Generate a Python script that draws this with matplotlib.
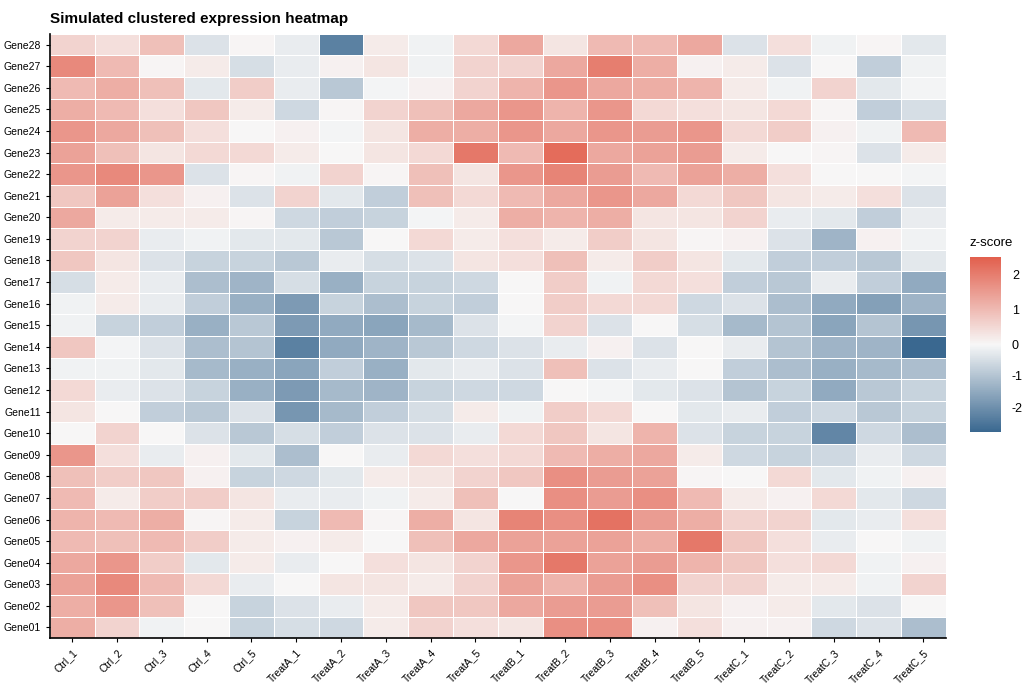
import numpy as np
import matplotlib
matplotlib.use("Agg")
from matplotlib import pyplot as plt
from matplotlib.colors import LinearSegmentedColormap, TwoSlopeNorm

plt.rcParams['font.family'] = ['Liberation Sans', 'DejaVu Sans']
plt.rcParams['axes.unicode_minus'] = False

samples = ["Ctrl_1", "Ctrl_2", "Ctrl_3", "Ctrl_4", "Ctrl_5",
           "TreatA_1", "TreatA_2", "TreatA_3", "TreatA_4", "TreatA_5",
           "TreatB_1", "TreatB_2", "TreatB_3", "TreatB_4", "TreatB_5",
           "TreatC_1", "TreatC_2", "TreatC_3", "TreatC_4", "TreatC_5"]
genes = ["Gene%02d" % i for i in range(1, 29)]

# rows listed Gene01 .. Gene28
z = [
    [1.2, 0.6, -0.1, 0.0, -0.7, -0.5, -0.6, 0.2, 0.6, 0.4, 0.3, 1.7, 1.7, 0.1, 0.4, 0.1, 0.1, -0.6, -0.4, -1.1],
    [1.2, 1.6, 0.9, 0.0, -0.7, -0.4, -0.2, 0.2, 0.8, 0.8, 1.3, 1.5, 1.5, 0.9, 0.3, 0.1, 0.2, -0.3, -0.4, 0.0],
    [1.4, 1.8, 1.0, 0.5, -0.2, 0.0, 0.3, 0.3, 0.2, 0.6, 1.4, 1.1, 1.5, 1.7, 0.6, 0.6, 0.2, 0.2, -0.1, 0.6],
    [1.3, 1.6, 0.7, -0.3, 0.2, -0.2, 0.0, 0.4, 0.3, 0.6, 1.6, 2.1, 1.4, 1.5, 1.1, 0.8, 0.4, 0.5, -0.1, 0.1],
    [1.0, 0.9, 1.0, 0.7, 0.2, 0.1, 0.2, 0.0, 0.9, 1.3, 1.4, 1.4, 1.4, 1.2, 2.1, 0.8, 0.4, -0.2, 0.0, -0.1],
    [1.1, 1.0, 1.2, 0.05, 0.2, -0.7, 1.0, 0.05, 1.2, 0.3, 1.9, 1.7, 2.2, 1.5, 1.2, 0.6, 0.6, -0.3, -0.2, 0.4],
    [1.0, 0.2, 0.7, 0.7, 0.3, -0.2, -0.2, -0.1, 0.2, 0.9, 0.0, 1.7, 1.5, 1.7, 1.0, 0.2, 0.1, 0.5, -0.3, -0.6],
    [0.9, 0.7, 0.8, 0.1, -0.7, -0.6, -0.3, 0.2, 0.3, 0.6, 0.8, 1.7, 1.5, 1.4, 0.05, 0.0, 0.5, -0.3, -0.1, 0.1],
    [1.6, 0.4, -0.2, 0.1, -0.3, -1.1, 0.0, -0.2, 0.5, 0.4, 0.5, 1.0, 1.2, 1.3, 0.2, -0.6, -0.7, -0.6, -0.2, -0.6],
    [0.0, 0.6, 0.0, -0.4, -0.9, -0.5, -0.8, -0.4, -0.4, -0.2, 0.5, 0.8, 0.3, 1.1, -0.4, -0.7, -0.7, -2.2, -0.6, -1.1],
    [0.3, 0.0, -0.8, -0.9, -0.4, -1.9, -1.2, -0.8, -0.5, 0.2, -0.1, 0.7, 0.5, 0.0, -0.3, -0.2, -0.8, -0.6, -0.9, -0.7],
    [0.5, -0.2, -0.4, -0.7, -1.4, -1.8, -1.2, -1.3, -0.7, -0.6, -0.6, 0.0, -0.05, -0.3, -0.4, -1.0, -0.7, -1.5, -0.9, -0.7],
    [-0.1, -0.1, -0.3, -1.2, -1.4, -1.6, -0.8, -1.4, -0.3, -0.2, -0.4, 0.9, -0.4, -0.2, 0.0, -0.8, -1.1, -1.4, -1.2, -1.1],
    [0.8, -0.05, -0.4, -1.1, -1.0, -2.3, -1.5, -1.3, -0.9, -0.6, -0.4, -0.2, 0.1, -0.4, 0.0, -0.2, -1.0, -1.3, -1.3, -2.8],
    [-0.1, -0.7, -0.8, -1.4, -0.9, -1.8, -1.5, -1.6, -1.2, -0.4, -0.05, 0.6, -0.4, 0.0, -0.5, -1.2, -1.0, -1.6, -1.0, -1.9],
    [-0.1, 0.2, -0.2, -0.8, -1.4, -1.8, -0.7, -1.1, -0.7, -0.8, 0.0, 0.7, 0.5, 0.5, -0.6, -0.4, -1.1, -1.5, -1.7, -1.3],
    [-0.5, 0.2, -0.2, -1.1, -1.3, -0.5, -1.4, -0.7, -0.7, -0.6, 0.0, 0.7, -0.1, 0.5, 0.4, -0.8, -0.9, -0.2, -0.8, -1.5],
    [0.8, 0.3, -0.4, -0.7, -0.7, -0.9, -0.2, -0.5, -0.4, 0.3, 0.4, 0.9, 0.2, 0.7, 0.3, -0.3, -0.8, -0.8, -0.9, -0.3],
    [0.6, 0.6, -0.2, -0.1, -0.3, -0.3, -0.9, 0.0, 0.5, 0.2, 0.4, 0.2, 0.7, 0.3, 0.05, 0.1, -0.4, -1.3, 0.1, -0.1],
    [1.3, 0.2, 0.2, 0.2, 0.05, -0.6, -0.8, -0.7, -0.05, 0.2, 1.2, 1.1, 1.2, 0.3, 0.3, 0.6, -0.2, -0.3, -0.8, -0.2],
    [0.8, 1.4, 0.4, 0.1, -0.4, 0.6, -0.3, -0.8, 0.9, 0.5, 1.0, 1.3, 1.6, 1.3, 0.5, 0.8, 0.3, 0.2, 0.4, -0.4],
    [1.6, 1.8, 1.6, -0.4, 0.05, -0.1, 0.6, 0.05, 0.9, 0.3, 1.6, 1.9, 1.5, 1.0, 1.4, 1.2, 0.4, 0.0, 0.0, -0.05],
    [1.4, 0.9, 0.3, 0.5, 0.5, 0.2, 0.0, 0.3, 0.5, 2.1, 1.0, 2.3, 1.3, 1.4, 1.5, 0.2, 0.0, 0.05, -0.4, 0.2],
    [1.6, 1.3, 0.9, 0.4, 0.0, 0.1, -0.05, 0.3, 1.2, 1.2, 1.6, 1.3, 1.6, 1.5, 1.6, 0.5, 0.7, 0.1, -0.1, 1.0],
    [1.2, 1.0, 0.4, 0.8, 0.2, -0.6, 0.05, 0.6, 0.9, 1.3, 1.6, 1.1, 1.6, 0.5, 0.4, 0.3, 0.5, 0.05, -0.8, -0.5],
    [1.0, 1.2, 0.9, -0.3, 0.7, -0.2, -0.9, -0.05, 0.1, 0.6, 1.1, 1.6, 1.3, 1.2, 1.1, 0.2, -0.1, 0.6, -0.3, -0.05],
    [1.8, 1.0, 0.05, 0.2, -0.5, -0.2, 0.1, 0.3, -0.1, 0.6, 0.6, 1.3, 2.0, 1.2, 0.1, 0.2, -0.4, 0.0, -0.8, -0.1],
    [0.6, 0.4, 0.9, -0.4, 0.05, -0.2, -2.3, 0.2, -0.1, 0.5, 1.3, 0.3, 1.0, 1.0, 1.3, -0.4, 0.4, -0.1, 0.05, -0.3],
]
z = np.array(z)

cmap = LinearSegmentedColormap.from_list("zs", ["#3a6890", "#f7f7f7", "#e2604e"])
norm = TwoSlopeNorm(vmin=-2.8, vcenter=0, vmax=2.5)

fig = plt.figure(figsize=(10.36, 6.9), dpi=100)
ax = fig.add_axes([0.048, 0.075, 0.865, 0.876])
mesh = ax.pcolormesh(z, cmap=cmap, norm=norm, edgecolors="white", linewidth=0.5)
ax.set_xlim(0, len(samples))
ax.set_ylim(0, len(genes))
ax.set_xticks(np.arange(len(samples)) + 0.5)
ax.set_xticklabels(samples, rotation=45, ha="right", rotation_mode="anchor", fontsize=7.5)
ax.set_yticks(np.arange(len(genes)) + 0.5)
ax.set_yticklabels(genes, fontsize=7.5)
for s in ["top", "right"]:
    ax.spines[s].set_visible(False)
ax.spines["left"].set_linewidth(1.2)
ax.spines["bottom"].set_linewidth(1.2)
ax.tick_params(length=3)
ax.set_title("Simulated clustered expression heatmap", loc="left", fontweight="bold", fontsize=11, pad=8)

cax = fig.add_axes([0.936, 0.374, 0.03, 0.253])
cb = fig.colorbar(mesh, cax=cax, ticks=[-2, -1, 0, 1, 2])
cb.outline.set_visible(False)
cb.ax.tick_params(labelsize=9, length=3, color="white", pad=5)
cax.set_title("z-score", fontsize=9.5, loc="left", pad=8)

fig.savefig("out.png")
